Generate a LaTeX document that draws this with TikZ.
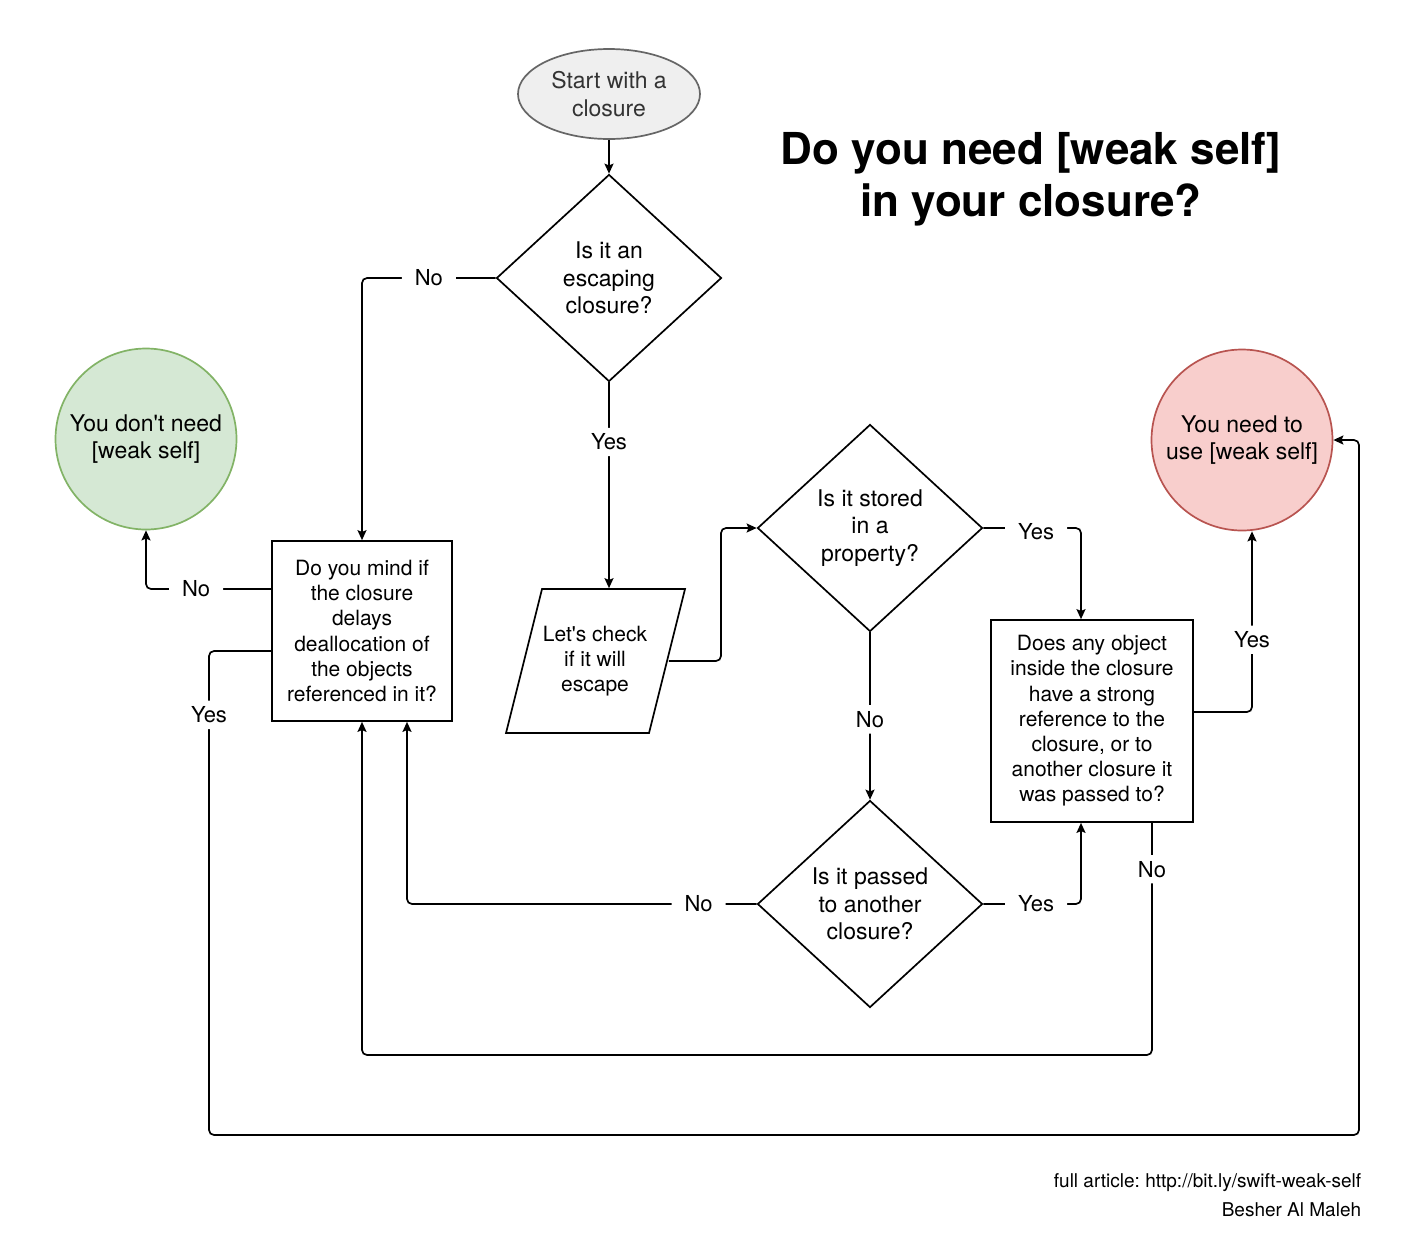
\documentclass[tikz,border=0pt]{standalone}
\usepackage{fontspec}
\setmainfont{TeX Gyre Heros}
\usetikzlibrary{shapes.geometric,arrows.meta}
\frenchspacing

\definecolor{startfill}{HTML}{EFEFEF}
\definecolor{startline}{HTML}{666666}
\definecolor{starttext}{HTML}{333333}
\definecolor{nofill}{HTML}{D5E8D4}
\definecolor{noline}{HTML}{82B366}
\definecolor{yesfill}{HTML}{F8CECC}
\definecolor{yesline}{HTML}{B85450}

\begin{document}
\begin{tikzpicture}[x=0.5pt,y=-0.5pt,line width=0.85pt,
    bigtext/.style={font=\fontsize{11.5}{13.8}\selectfont, align=center},
    boxtext/.style={font=\fontsize{10.5}{12.6}\selectfont, align=center},
    ask/.style={diamond, draw, bigtext, inner sep=0pt, minimum width=112.5pt, minimum height=103.5pt},
    decide/.style={rectangle, draw, boxtext, inner sep=0pt},
    verdict/.style={circle, draw, bigtext, inner sep=0pt, minimum size=90.5pt},
    link/.style={-{Stealth[length=5pt,width=4.5pt,inset=0.9pt]}, rounded corners=2.5pt}]

      \useasboundingbox (0,0) rectangle (1404,1238);

      % shapes
      \node[ellipse, draw=startline, fill=startfill, text=starttext, bigtext,
            inner sep=0pt, minimum width=91pt, minimum height=45pt] (start) at (609,94) {Start with a\\closure};
      \node[ask] (esc)    at (609,278) {Is it an\\escaping\\closure?};
      \node[ask] (stored) at (870,528) {Is it stored\\in a\\property?};
      \node[ask] (passed) at (870,904) {Is it passed\\to another\\closure?};

      \node[decide, minimum width=90pt, minimum height=90pt] (mind) at (362,631)
        {Do you mind if\\the closure\\delays\\deallocation of\\the objects\\referenced in it?};
      \node[decide, minimum width=101pt, minimum height=101pt] (strong) at (1092,721)
        {Does any object\\inside the closure\\have a strong\\reference to the\\closure, or to\\another closure it\\was passed to?};

      \draw (542,589) -- (685,589) -- (649,733) -- (506,733) -- cycle;
      \node[boxtext, inner sep=0pt, minimum width=73pt, minimum height=72pt] (check) at (595,661)
        {Let\textquotesingle s check\\if it will\\escape};

      \node[verdict, draw=noline, fill=nofill]   (noneed) at (146,439) {You don\textquotesingle t need\\{[weak self]}};
      \node[verdict, draw=yesline, fill=yesfill] (need)   at (1242,440) {You need to\\use [weak self]};

      \coordinate (bendA) at (721,528);
      \coordinate (lowA)  at (362,1055);
      \coordinate (loopA) at (209,1135);
      \coordinate (loopB) at (1359,1135);

      % connectors
      \begin{scope}[every node/.style={fill=white, font=\fontsize{11}{13.2}\selectfont,
                    inner xsep=6.5pt, inner ysep=3pt}]
        \draw[link] (start) -- (esc);
        \draw[link] (esc.west) -| node[pos=0.25] {No} (mind.north);
        \draw[link] (esc.south) -- node[pos=0.29] {Yes} (esc.south |- check.north);
        \draw[link] (check.east) -| (bendA) -- (stored.west);
        \draw[link] (stored.east) -| node[pos=0.27, yshift=-2pt] {Yes} ([xshift=-5.5pt]strong.north);
        \draw[link] (stored.south) -- node[pos=0.52] {No} (passed.north);
        \draw[link] (passed.east) -| node[pos=0.27] {Yes} ([xshift=-5.5pt]strong.south);
        \draw[link] (passed.west) -| node[pos=0.083] {No} ([xshift=22.5pt]mind.south);
        \draw[link] ([yshift=4.5pt]strong.east) -| node[pos=0.7] {Yes} ([xshift=5pt]need.south);
        \draw[link] ([xshift=30pt]strong.south) |- node[pos=0.1] {No} (lowA) -- (mind.south);
        \draw[link] ([yshift=21pt]mind.west) -| node[pos=0.3] {No} (noneed.south);
        \draw[link] ([yshift=-10pt]mind.west) -| node[pos=0.566] {Yes} (loopA) -- (loopB) |- (need.east);
      \end{scope}

      % title and credit
      \node[font=\fontsize{22}{26}\selectfont\bfseries, align=center] (title) at (1031,179)
        {Do you need [weak self]\\in your closure?};
      \node[anchor=east, align=right, inner sep=0pt, font=\fontsize{9.5}{14.5}\selectfont] (credit) at (1362,1195)
        {full article: http://bit.ly/swift-weak-self\\Besher Al Maleh};

    \end{tikzpicture}
\end{document}
